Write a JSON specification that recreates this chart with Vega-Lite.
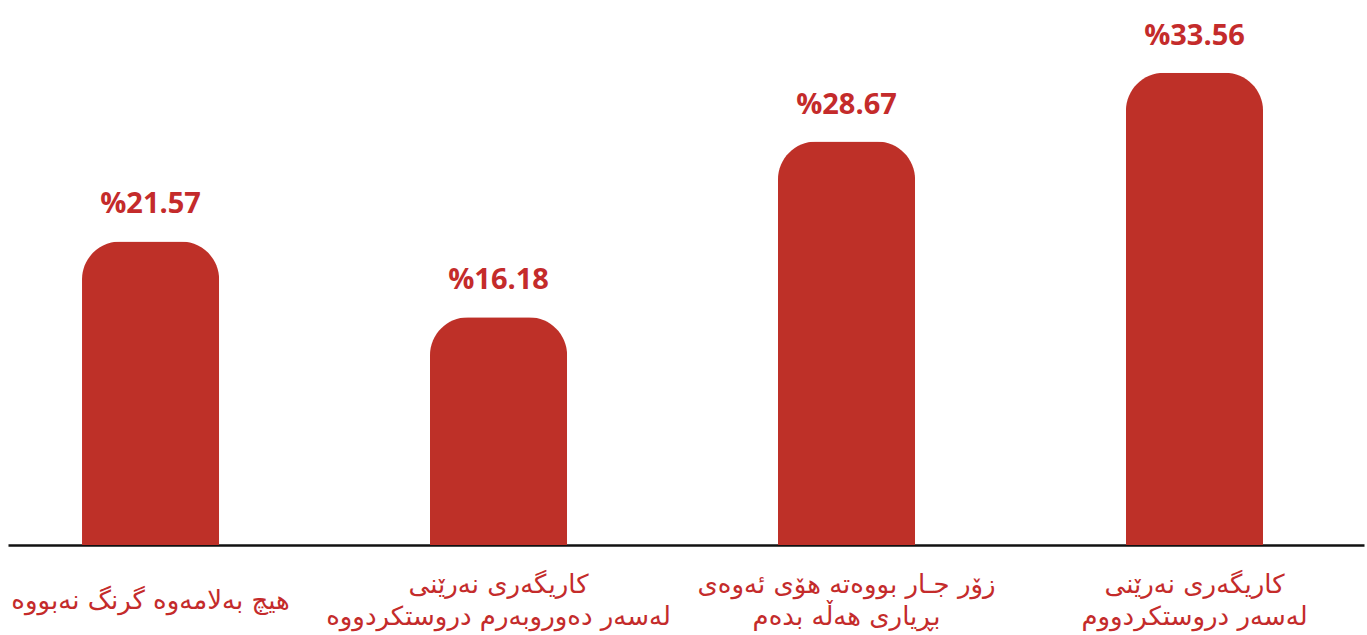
{
  "$schema": "https://vega.github.io/schema/vega-lite/v6.json",
  "width": 1356,
  "height": 545,
  "padding": {"left": 8, "right": 3, "top": 0, "bottom": 90},
  "autosize": {"type": "none"},
  "background": "#ffffff",
  "config": {"view": {"stroke": null}},
  "data": {
    "values": [
      {"category": "هیچ بەلامەوە گرنگ نەبووە", "value": 21.57, "label": "%21.57"},
      {"category": "کاریگەری نەرێنی|لەسەر دەوروبەرم دروستکردووە", "value": 16.18, "label": "%16.18"},
      {"category": "زۆر جـار بووەتە هۆی ئەوەی|بڕیاری هەڵە بدەم", "value": 28.67, "label": "%28.67"},
      {"category": "کاریگەری نەرێنی|لەسەر دروستکردووم", "value": 33.56, "label": "%33.56"}
    ]
  },
  "encoding": {
    "x": {
      "field": "category",
      "type": "nominal",
      "sort": null,
      "scale": {"paddingInner": 0.606, "paddingOuter": 0.2514, "align": 0.423},
      "axis": {
        "title": null,
        "labelAngle": 0,
        "ticks": false,
        "domain": true,
        "domainColor": "#111111",
        "domainWidth": 2.5,
        "labelExpr": "split(datum.label, '|')",
        "labelFont": "DejaVu Sans",
        "labelFontSize": 26,
        "labelColor": "#c42b2b",
        "labelBaseline": "middle",
        "labelPadding": {"condition": {"test": "indexof(datum.value, '|') >= 0", "value": 39}, "value": 55},
        "labelLineHeight": 32,
        "labelLimit": 400
      }
    },
    "y": {
      "field": "value",
      "type": "quantitative",
      "scale": {"domain": [0, 38.73], "nice": false},
      "axis": null
    }
  },
  "layer": [
    {
      "mark": {"type": "bar", "color": "#be3028", "cornerRadiusTopLeft": 38, "cornerRadiusTopRight": 38}
    },
    {
      "mark": {"type": "text", "baseline": "alphabetic", "dy": -28, "font": "Open Sans", "fontWeight": "bold", "fontSize": 29, "color": "#c42b2b"},
      "encoding": {"text": {"field": "label", "type": "nominal"}}
    }
  ]
}
